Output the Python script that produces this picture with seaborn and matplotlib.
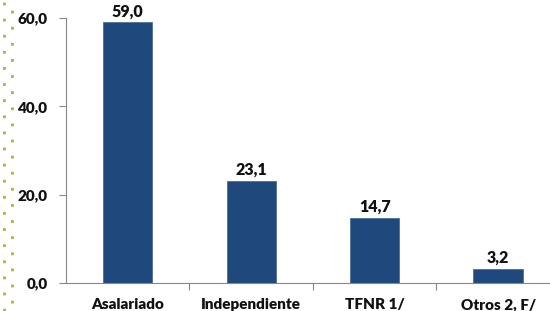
import pandas as pd
import matplotlib.pyplot as plt
import seaborn as sns
from matplotlib.lines import Line2D

# data
categorias = ["Asalariado", "Independiente", "TFNR 1/", "Otros 2, F/"]
valores = [59.0, 23.1, 14.7, 3.2]
y_ticks = [0, 20, 40, 60]

df = pd.DataFrame({"cat": categorias, "val": valores})

sns.set_theme(style="white")
plt.rcParams['font.family'] = ['Lato', 'DejaVu Sans']

fig = plt.figure(figsize=(5.5, 3.11), dpi=100)
ax = fig.add_axes([0.12, 0.09, 0.898, 0.852])

sns.barplot(data=df, x="cat", y="val", color="#1F497D", saturation=1,
            width=0.4, edgecolor="#4F6E9A", linewidth=0.6, ax=ax)

ax.set_xlim(-0.5, 3.5)
ax.set_ylim(0, 60)
ax.set_xlabel("")
ax.set_ylabel("")

# bar value labels
for i, v in enumerate(valores):
    ax.text(i, v + 0.7, f"{v:.1f}".replace(".", ","), ha="center", va="bottom",
            fontsize=11.5, fontweight="heavy", color="#111111")

# y axis
ax.set_yticks(y_ticks)
ax.set_yticklabels([f"{t:.1f}".replace(".", ",") for t in y_ticks],
                   fontsize=11, fontweight="heavy", color="#111111")
ax.tick_params(axis="y", direction="out", length=5, width=0.8, color="#888888",
               left=True, pad=8)

# x axis: labels at centres, tick marks at boundaries
ax.set_xticks(range(len(categorias)))
ax.set_xticklabels(categorias, fontsize=11, fontweight="heavy", color="#111111")
ax.tick_params(axis="x", which="major", length=0, pad=11)
ax.set_xticks([0.5, 1.5, 2.5, 3.5], minor=True)
ax.tick_params(axis="x", which="minor", direction="out", length=5, width=0.8,
               color="#888888", bottom=True)

for s in ["top", "right"]:
    ax.spines[s].set_visible(False)
for s in ["left", "bottom"]:
    ax.spines[s].set_color("#888888")
    ax.spines[s].set_linewidth(0.8)

# dotted decoration on the left edge
fig.add_artist(Line2D([4 / 550, 4 / 550], [0, 1], transform=fig.transFigure,
                      color="#A8B43A", linewidth=2, dashes=(1, 4.8)))
fig.add_artist(Line2D([12 / 550, 12 / 550], [8 / 311, 1], transform=fig.transFigure,
                      color="#A8B43A", linewidth=2, dashes=(1, 4.8)))

fig.savefig("out.png", dpi=100)
